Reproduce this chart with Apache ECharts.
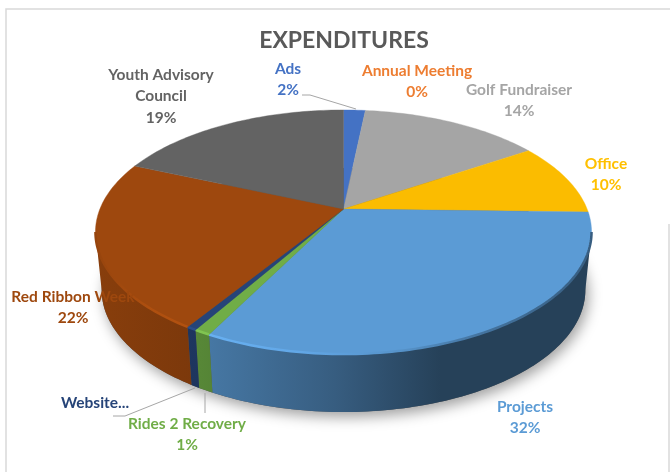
<!DOCTYPE html>
<html>
<head>
<meta charset="utf-8">
<style>html,body{margin:0;padding:0;background:#fff}#chart{width:670px;height:472px}</style>
<script src="https://cdn.jsdelivr.net/npm/echarts@6/dist/echarts.min.js"></script>
</head>
<body>
<div id="chart"></div>
<script>
// Data
var categories = ['Ads','Annual Meeting','Golf Fundraiser','Office','Projects','Rides 2 Recovery','Website...','Red Ribbon Week','Youth Advisory Council'];
var values = [1.7,0,14.1,9.6,32.2,0.9,0.55,22.35,18.6];
var percentLabels = ['2%','0%','14%','10%','32%','1%','','22%','19%'];
var colors = ['#4472c4','#ed7d31','#a5a5a5','#fbbc00','#5b9bd5','#70ad47','#264478','#9e480e','#636363'];

// Tilted-disc projection (perspective view of a circle)
var CX = 343.5, APEX_Y = 209, A = 243.6, YA = 78.3, PERS = -0.1885;
var DEPTH = 58, BASE_SCALE = 0.975;
var total = values.reduce(function (a, b) { return a + b; }, 0);

function rim(theta) {
  var u = Math.sin(theta), v = -Math.cos(theta), d = 1 + PERS * v;
  return [CX + A * u / d, (YA * v + APEX_Y) / d];
}
function base(theta) {
  var p = rim(theta);
  return [CX + (p[0] - CX) * BASE_SCALE, p[1] + DEPTH];
}
function arc(fn, a0, a1) {
  var pts = [], n = Math.max(2, Math.ceil(Math.abs(a1 - a0) / 0.02));
  for (var i = 0; i <= n; i++) pts.push(fn(a0 + (a1 - a0) * i / n));
  return pts;
}
function angles(idx) {
  var s = 0;
  for (var i = 0; i < idx; i++) s += values[i];
  return [s / total * 2 * Math.PI, (s + values[idx]) / total * 2 * Math.PI];
}
function shade(hex, f) {
  var n = parseInt(hex.slice(1), 16);
  var c = [n >> 16, (n >> 8) & 255, n & 255].map(function (x) { return Math.max(0, Math.min(255, Math.round(x * f))); });
  return 'rgb(' + c.join(',') + ')';
}
function hGrad(hex, stops) {
  var x0 = 95, x1 = 592;
  return new echarts.graphic.LinearGradient(x0, 0, x1, 0, stops.map(function (s) {
    return { offset: (s[0] - x0) / (x1 - x0), color: shade(hex, s[1]) };
  }), true);
}
var SIDE_FROM = Math.acos(PERS), SIDE_TO = 2 * Math.PI - Math.acos(PERS);

function renderShadow(params, api) {
  return {
    type: 'polygon',
    shape: { points: arc(base, 0, 2 * Math.PI) },
    style: { fill: '#555', shadowBlur: 14, shadowColor: 'rgba(0,0,0,0.38)', shadowOffsetY: 5, shadowOffsetX: 3 }
  };
}
function renderSide(params, api) {
  var i = params.dataIndex, a = angles(i);
  var a0 = Math.max(a[0], SIDE_FROM), a1 = Math.min(a[1], SIDE_TO);
  if (a1 <= a0) return { type: 'group', children: [] };
  return {
    type: 'polygon',
    shape: { points: arc(rim, a0, a1).concat(arc(base, a1, a0)) },
    style: { fill: hGrad(colors[i], [[95, 0.86], [200, 0.78], [335, 0.6], [440, 0.42], [592, 0.42]]), stroke: null }
  };
}
function renderTop(params, api) {
  var i = params.dataIndex, a = angles(i);
  if (a[1] - a[0] <= 0) return { type: 'group', children: [] };
  var children = [{
    type: 'polygon',
    shape: { points: [[CX, APEX_Y]].concat(arc(rim, a[0], a[1])) },
    style: { fill: colors[i], stroke: colors[i], lineWidth: 0.4 }
  }];
  var b0 = Math.max(a[0], SIDE_FROM), b1 = Math.min(a[1], SIDE_TO);
  if (b1 > b0) {
    children.push({
      type: 'polyline',
      shape: { points: arc(rim, b0, b1) },
      style: { fill: null, lineWidth: 2.5, stroke: hGrad(colors[i], [[95, 0.95], [150, 1.1], [200, 1.14], [300, 1.08], [400, 0.95], [480, 0.75], [592, 0.6]]) }
    });
  }
  return { type: 'group', children: children };
}

// Label layout
var labelFont = 'bold 15.5px Lato, "Open Sans", sans-serif';
var labelLines = [
  [['Ads'], 288, 69],
  [['Annual Meeting'], 417, 71],
  [['Golf Fundraiser'], 519, 90],
  [['Office'], 606, 164],
  [['Projects'], 525, 407],
  [['Rides 2 Recovery'], 187, 424],
  [['Website...'], 95, 403],
  [['Red Ribbon Week'], 73, 297],
  [['Youth Advisory', 'Council'], 161, 75]
];
var LINE_H = 21.4;
var graphics = [];
labelLines.forEach(function (l, i) {
  var lines = l[0].concat(percentLabels[i] ? [percentLabels[i]] : []);
  lines.forEach(function (t, k) {
    graphics.push({
      type: 'text', z: 100, x: l[1], y: l[2] + k * LINE_H,
      style: { text: t, fill: colors[i] === '#fbbc00' ? '#ffc000' : colors[i], font: labelFont, align: 'center', verticalAlign: 'middle' }
    });
  });
});
[[[302, 95], [310, 95], [356, 109]], [[113, 416], [125, 416], [195, 388]], [[205, 393], [205, 413]]].forEach(function (pts) {
  graphics.push({ type: 'polyline', z: 90, shape: { points: pts }, style: { fill: null, stroke: '#a6a6a6', lineWidth: 1 } });
});
[[[6, 478], [6, 9], [670, 9]], [[669, 224], [669, 478]]].forEach(function (pts) {
  graphics.push({ type: 'polyline', z: 1, shape: { points: pts }, style: { fill: null, stroke: '#d9d9d9', lineWidth: 1.5 } });
});

var sectorData = categories.map(function (c, i) { return { name: c, value: values[i] }; });
var chart = echarts.init(document.getElementById('chart'), null, { renderer: 'canvas' });
chart.setOption({
  animation: false,
  backgroundColor: '#fff',
  title: {
    text: 'EXPENDITURES', left: 339, top: 24, textAlign: 'center',
    textStyle: { color: '#595959', fontSize: 23, fontWeight: 'bold', fontFamily: 'Lato, "Open Sans", sans-serif' }
  },
  tooltip: { show: false },
  graphic: graphics,
  series: [
    { type: 'custom', coordinateSystem: 'none', z: 2, silent: true, renderItem: renderShadow, data: [1] },
    { type: 'custom', coordinateSystem: 'none', z: 3, silent: true, renderItem: renderSide, data: sectorData },
    { type: 'custom', coordinateSystem: 'none', z: 4, silent: true, renderItem: renderTop, data: sectorData }
  ]
});
</script>
</body>
</html>
